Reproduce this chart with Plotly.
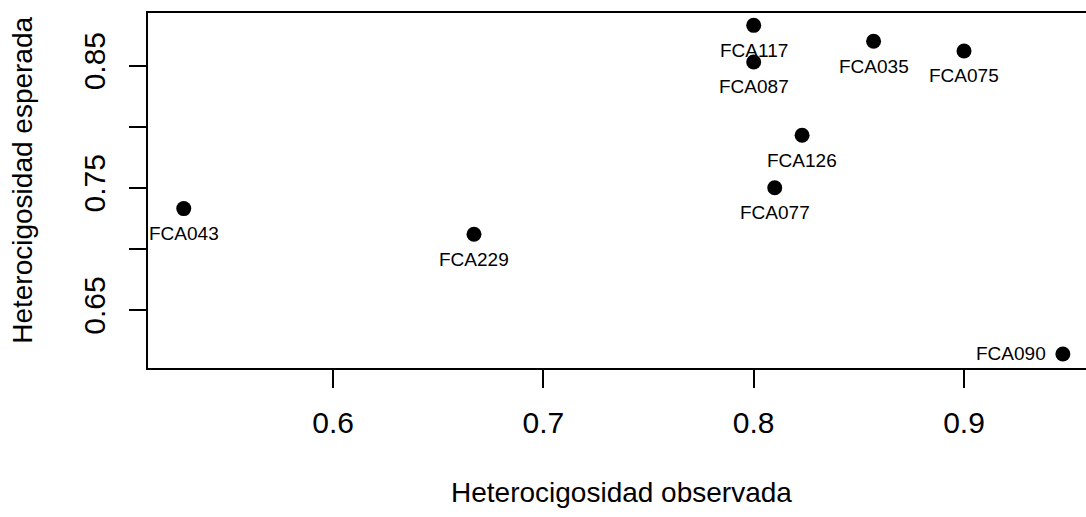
import plotly.graph_objects as go

# Microsatellite loci: observed vs expected heterozygosity
loci = ["FCA043", "FCA229", "FCA117", "FCA087", "FCA035",
        "FCA075", "FCA126", "FCA077", "FCA090"]
h_obs = [0.529, 0.667, 0.800, 0.800, 0.857, 0.900, 0.823, 0.810, 0.947]
h_exp = [0.733, 0.712, 0.883, 0.853, 0.870, 0.862, 0.793, 0.750, 0.614]
# side of the point where each locus name is written
label_side = ["below", "below", "below", "below", "below",
              "below", "below", "below", "left"]

x_ticks = [0.6, 0.7, 0.8, 0.9]
x_ticktext = ["0.6", "0.7", "0.8", "0.9"]
y_ticks = [0.65, 0.70, 0.75, 0.80, 0.85]
y_ticktext = ["0.65", "", "0.75", "", "0.85"]

FONT = "Liberation Sans, Arial, sans-serif"

fig = go.Figure()
fig.add_trace(go.Scatter(
    x=h_obs, y=h_exp, mode="markers",
    marker=dict(size=15, color="black"),
    hovertext=loci, hoverinfo="text+x+y",
    showlegend=False,
))

annotations = []
for name, xv, yv, side in zip(loci, h_obs, h_exp, label_side):
    if side == "left":
        annotations.append(dict(x=xv, y=yv, xref="x", yref="y", text=name,
                                showarrow=False, xanchor="right", yanchor="middle",
                                xshift=-15, font=dict(family=FONT, size=19, color="black")))
    else:
        annotations.append(dict(x=xv, y=yv, xref="x", yref="y", text=name,
                                showarrow=False, xanchor="center", yanchor="middle",
                                yshift=-25, font=dict(family=FONT, size=19, color="black")))

# axis titles
annotations.append(dict(text="Heterocigosidad observada", xref="paper", yref="paper",
                        x=0.505, y=-0.352, xanchor="center", yanchor="middle",
                        showarrow=False, font=dict(family=FONT, size=28, color="black")))
annotations.append(dict(text="Heterocigosidad esperada", xref="paper", yref="paper",
                        x=-0.1333, y=0.53, xanchor="center", yanchor="middle",
                        textangle=-90, showarrow=False,
                        font=dict(family=FONT, size=28, color="black")))

fig.update_layout(
    width=1086, height=517,
    margin=dict(l=148, r=0, t=13, b=149),
    paper_bgcolor="white", plot_bgcolor="white",
    font=dict(family=FONT, color="black"),
    annotations=annotations,
    xaxis=dict(range=[0.5120, 0.9580], tickvals=x_ticks, ticktext=x_ticktext,
               showgrid=False, zeroline=False, showline=True, linecolor="black",
               linewidth=2, mirror=True, ticks="outside", ticklen=18, tickwidth=2,
               tickcolor="black", ticklabelstandoff=9,
               tickfont=dict(family=FONT, size=30, color="black")),
    yaxis=dict(range=[0.6025, 0.8931], tickvals=y_ticks, ticktext=y_ticktext,
               showgrid=False, zeroline=False, showline=True, linecolor="black",
               linewidth=2, mirror=False, ticks="outside", ticklen=17, tickwidth=2,
               tickcolor="black", tickangle=-90, ticklabelstandoff=12,
               tickfont=dict(family=FONT, size=30, color="black")),
)

fig.write_html("out.html")
